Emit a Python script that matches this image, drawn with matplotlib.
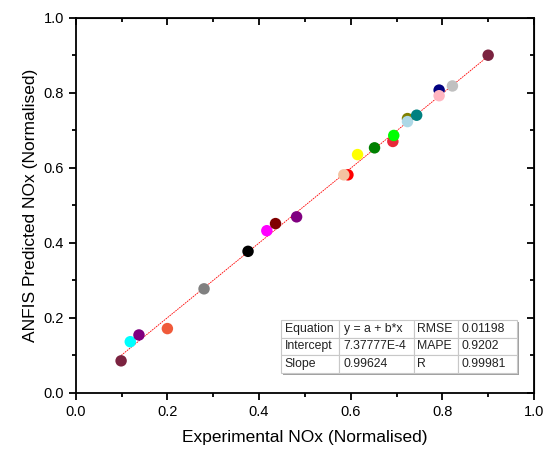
import numpy as np
import matplotlib.pyplot as plt
from matplotlib.patches import Rectangle
from matplotlib.ticker import MultipleLocator

plt.rcParams["font.family"] = ["Liberation Sans", "DejaVu Sans"]

# experimental vs predicted (normalised)
exp_nox = [0.099, 0.119, 0.138, 0.200, 0.280, 0.376, 0.417, 0.436, 0.482,
           0.594, 0.585, 0.615, 0.652, 0.692, 0.694, 0.724, 0.724, 0.744,
           0.793, 0.793, 0.822, 0.900]
pred_nox = [0.085, 0.136, 0.154, 0.171, 0.277, 0.377, 0.432, 0.451, 0.469,
            0.581, 0.581, 0.635, 0.653, 0.670, 0.686, 0.731, 0.723, 0.740,
            0.807, 0.792, 0.818, 0.900]
colors = ['#7B2340', '#00FFFF', '#800080', '#F05A3A', '#808080', '#000000',
          '#FF00FF', '#800000', '#800080', '#FF0000', '#F4C2A0', '#FFFF00',
          '#008000', '#E8283A', '#00FF00', '#808000', '#ADD8E6', '#008080',
          '#000080', '#FFB6C1', '#C0C0C0', '#7B2340']

intercept = 7.37777e-4
slope = 0.99624
table_text = [['Equation', 'y = a + b*x', 'RMSE', '0.01198'],
              ['Intercept', '7.37777E-4', 'MAPE', '0.9202'],
              ['Slope', '0.99624', 'R', '0.99981']]

fig = plt.figure(figsize=(5.46, 4.54), dpi=100)
ax = fig.add_axes([0.1387, 0.135, 0.8393, 0.826])

ax.scatter(exp_nox, pred_nox, s=68, c=colors, edgecolors='none', zorder=3)

xf = np.array([min(exp_nox), max(exp_nox)])
ax.plot(xf, intercept + slope * xf, color='red', lw=0.6, ls=(0, (2, 1)), zorder=2)

ax.set_xlim(0, 1.0)
ax.set_ylim(0, 1.0)
ax.xaxis.set_major_locator(MultipleLocator(0.2))
ax.yaxis.set_major_locator(MultipleLocator(0.2))
ax.xaxis.set_minor_locator(MultipleLocator(0.1))
ax.yaxis.set_minor_locator(MultipleLocator(0.1))
ax.tick_params(which='both', direction='out', labelsize=10.5, width=1.3)
ax.tick_params(which='major', length=5)
ax.tick_params(which='minor', length=3)
for s in ax.spines.values():
    s.set_linewidth(1.3)

# mirrored ticks pointing inward on top/right
axt = ax.secondary_xaxis('top')
axt.xaxis.set_major_locator(MultipleLocator(0.2))
axt.xaxis.set_minor_locator(MultipleLocator(0.1))
axt.tick_params(which='both', direction='in', labeltop=False, width=1.3)
axt.tick_params(which='major', length=5)
axt.tick_params(which='minor', length=3)
axr = ax.secondary_yaxis('right')
axr.yaxis.set_major_locator(MultipleLocator(0.2))
axr.yaxis.set_minor_locator(MultipleLocator(0.1))
axr.tick_params(which='both', direction='in', labelright=False, width=1.3)
axr.tick_params(which='major', length=5)
axr.tick_params(which='minor', length=3)

ax.set_xlabel('Experimental NOx (Normalised)', fontsize=12.5, labelpad=8)
ax.set_ylabel('ANFIS Predicted NOx (Normalised)', fontsize=12.5, labelpad=4)

# stats table with shadow
bx, by, bw, bh = 0.448, 0.053, 0.514, 0.141
ax.add_patch(Rectangle((bx + 0.005, by - 0.006), bw, bh, transform=ax.transAxes,
                       facecolor='#A0A0A0', edgecolor='none', zorder=4))
tab = ax.table(cellText=table_text, bbox=[bx, by, bw, bh], cellLoc='left',
               colWidths=[0.25, 0.32, 0.19, 0.25])
tab.auto_set_font_size(False)
tab.set_fontsize(8.8)
tab.set_zorder(5)
for cell in tab.get_celld().values():
    cell.set_edgecolor('#C8C8C8')
    cell.set_linewidth(0.8)
    cell.set_facecolor('white')
    cell.PAD = 0.06
    cell.get_text().set_color('#222222')

fig.savefig('out.png', dpi=100)
